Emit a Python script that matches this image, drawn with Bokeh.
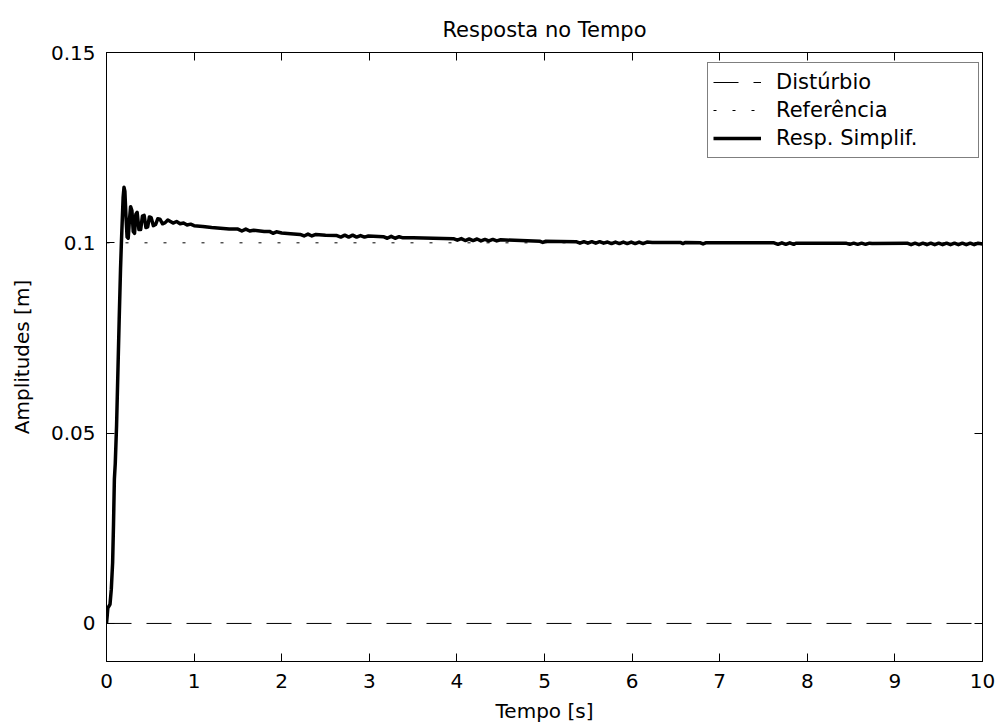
from bokeh.plotting import figure
from bokeh.models import Range1d, LinearAxis, FixedTicker, Legend, LegendItem, ColumnDataSource
from bokeh.embed import file_html
from bokeh.resources import INLINE

# ---- data ----
x_ticks = [0, 1, 2, 3, 4, 5, 6, 7, 8, 9, 10]
x_tick_labels = ["0", "1", "2", "3", "4", "5", "6", "7", "8", "9", "10"]
y_ticks = [0, 0.05, 0.1, 0.15]
y_tick_labels = ["0", "0.05", "0.1", "0.15"]

disturbio_t = [0, 10]
disturbio_y = [0, 0]

referencia_t = [0, 10]
referencia_y = [0.1, 0.1]

resp_t = [
    0.000, 0.008, 0.015, 0.040, 0.055, 0.070, 0.080, 0.090, 0.100, 0.115,
    0.130, 0.145, 0.160, 0.170, 0.180, 0.190, 0.200, 0.210, 0.222, 0.235,
    0.248, 0.262, 0.275, 0.290, 0.305, 0.320, 0.335, 0.350, 0.370, 0.390,
    0.410, 0.430, 0.450, 0.470, 0.490, 0.510, 0.535, 0.560, 0.585, 0.610,
    0.640, 0.670, 0.700, 0.730, 0.760, 0.800, 0.840, 0.880, 0.920, 0.960,
    1.000, 1.100, 1.200, 1.300, 1.400, 1.500, 1.545, 1.590, 1.635, 1.680,
    1.800, 1.860, 1.900, 1.940, 2.000, 2.100, 2.210, 2.255, 2.300, 2.345,
    2.390, 2.500, 2.630, 2.675, 2.720, 2.765, 2.810, 2.855, 2.900, 2.945,
    2.990, 3.160, 3.205, 3.250, 3.295, 3.340, 3.385, 3.500, 3.960, 4.005,
    4.050, 4.095, 4.140, 4.185, 4.230, 4.275, 4.320, 4.365, 4.410, 4.455,
    4.500, 4.950, 4.980, 5.010, 5.360, 5.405, 5.450, 5.495, 5.540, 5.585,
    5.630, 5.675, 5.720, 5.765, 5.810, 5.855, 5.900, 5.945, 5.990, 6.035,
    6.080, 6.125, 6.170, 6.230, 6.550, 6.580, 6.610, 6.780, 6.810, 6.840,
    7.620, 7.665, 7.710, 7.755, 7.800, 7.845, 7.870, 8.440, 8.485, 8.530,
    8.575, 8.620, 8.665, 8.710, 8.740, 9.140, 9.185, 9.230, 9.275, 9.320,
    9.365, 9.410, 9.455, 9.500, 9.545, 9.590, 9.635, 9.680, 9.725, 9.770,
    9.815, 9.860, 9.905, 9.950, 10.000,
]
resp_y = [
    0.0000, 0.0020, 0.0040, 0.0050, 0.0090, 0.0160, 0.0260, 0.0380, 0.0420, 0.0520,
    0.0660, 0.0800, 0.0930, 0.1000, 0.1060, 0.1120, 0.1146, 0.1135, 0.1070, 0.1015,
    0.1012, 0.1060, 0.1095, 0.1085, 0.1030, 0.1025, 0.1075, 0.1080, 0.1035, 0.1035,
    0.1070, 0.1072, 0.1040, 0.1042, 0.1068, 0.1066, 0.1045, 0.1048, 0.1063, 0.1062,
    0.1050, 0.1053, 0.1060, 0.1056, 0.1052, 0.1056, 0.1050, 0.1052, 0.1047, 0.1049,
    0.1045, 0.1043, 0.1040, 0.1038, 0.1036, 0.1036, 0.1031, 0.1036, 0.1031, 0.1033,
    0.1030, 0.1030, 0.1025, 0.1029, 0.1026, 0.1024, 0.1022, 0.1018, 0.1023, 0.1018,
    0.1022, 0.1020, 0.1019, 0.1015, 0.1020, 0.1015, 0.1020, 0.1015, 0.1019, 0.1015,
    0.1018, 0.1016, 0.1012, 0.1017, 0.1012, 0.1016, 0.1013, 0.1013, 0.1011, 0.1007,
    0.1011, 0.1006, 0.1010, 0.1006, 0.1010, 0.1005, 0.1009, 0.1005, 0.1009, 0.1005,
    0.1008, 0.1004, 0.1001, 0.1004, 0.1003, 0.0999, 0.1003, 0.0999, 0.1003, 0.0999,
    0.1003, 0.0999, 0.1002, 0.0998, 0.1002, 0.0998, 0.1002, 0.0998, 0.1002, 0.0998,
    0.1002, 0.0998, 0.1002, 0.1001, 0.1001, 0.0998, 0.1001, 0.1000, 0.0997, 0.1000,
    0.1000, 0.0996, 0.1000, 0.0996, 0.1000, 0.0996, 0.0999, 0.0999, 0.0996, 0.0999,
    0.0996, 0.0999, 0.0996, 0.0999, 0.0998, 0.0999, 0.0995, 0.0999, 0.0995, 0.0999,
    0.0995, 0.0999, 0.0995, 0.0999, 0.0995, 0.0999, 0.0995, 0.0999, 0.0995, 0.0999,
    0.0995, 0.0999, 0.0995, 0.0999, 0.0997,
]

series_names = ["Distúrbio", "Referência", "Resp. Simplif."]

FONT = "DejaVu Sans"

p = figure(
    width=998, height=725,
    frame_width=876, frame_height=609,
    x_range=Range1d(0, 10), y_range=Range1d(-0.01, 0.15),
    output_backend="svg", toolbar_location=None,
    min_border_left=106, min_border_right=16, min_border_top=52, min_border_bottom=64,
    title="Resposta no Tempo",
)
p.background_fill_color = "white"
p.border_fill_color = "white"
p.outline_line_color = "black"
p.outline_line_width = 1
p.grid.visible = False

p.title.align = "center"
p.title.text_font = FONT
p.title.text_font_size = "21px"
p.title.text_font_style = "normal"
p.title.text_color = "black"
p.title.standoff = 22

src_d = ColumnDataSource(dict(t=disturbio_t, y=disturbio_y))
src_r = ColumnDataSource(dict(t=referencia_t, y=referencia_y))
src_s = ColumnDataSource(dict(t=resp_t, y=resp_y))

r_d = p.line("t", "y", source=src_d, line_color="black", line_width=1, line_dash="25 15")
r_r = p.line("t", "y", source=src_r, line_color="black", line_width=1, line_dash="3 16")
r_s = p.line("t", "y", source=src_s, line_color="black", line_width=3.5, line_join="round")

def style_axis(ax, labels=True):
    ax.major_tick_in = 8
    ax.major_tick_out = 0
    ax.minor_tick_line_color = None
    ax.axis_line_color = "black"
    ax.major_tick_line_color = "black"
    ax.major_label_text_font = FONT
    if labels:
        ax.major_label_text_font_size = "20px"
        ax.major_label_text_color = "black"
    else:
        ax.major_label_text_font_size = "1px"
        ax.major_label_text_color = None
    ax.axis_label_text_font = FONT
    ax.axis_label_text_font_size = "20px"
    ax.axis_label_text_font_style = "normal"
    ax.axis_label_text_color = "black"

xax = p.xaxis[0]
xax.ticker = FixedTicker(ticks=x_ticks)
xax.major_label_overrides = {t: l for t, l in zip(x_ticks, x_tick_labels)}
xax.axis_label = "Tempo [s]"
xax.major_label_standoff = 12
xax.axis_label_standoff = 8
style_axis(xax)

yax = p.yaxis[0]
yax.ticker = FixedTicker(ticks=y_ticks)
yax.major_label_overrides = {t: l for t, l in zip(y_ticks, y_tick_labels)}
yax.axis_label = "Amplitudes [m]"
yax.major_label_standoff = 11
yax.axis_label_standoff = 14
style_axis(yax)

top_ax = LinearAxis(ticker=FixedTicker(ticks=x_ticks), major_label_standoff=0)
style_axis(top_ax, labels=False)
p.add_layout(top_ax, "above")

right_ax = LinearAxis(ticker=FixedTicker(ticks=y_ticks), major_label_standoff=0)
style_axis(right_ax, labels=False)
p.add_layout(right_ax, "right")

legend = Legend(
    items=[LegendItem(label=series_names[0], renderers=[r_d]),
           LegendItem(label=series_names[1], renderers=[r_r]),
           LegendItem(label=series_names[2], renderers=[r_s])],
    location=(601, 503),
    padding=5, spacing=0, margin=0,
    glyph_width=48, glyph_height=28, label_height=28, label_width=197,
    label_standoff=15,
    label_text_font=FONT, label_text_font_size="21px", label_text_color="black",
    border_line_color="black", border_line_width=1,
    background_fill_color="white", background_fill_alpha=1,
)
p.add_layout(legend)

open("out.html", "w").write(file_html(p, INLINE))
